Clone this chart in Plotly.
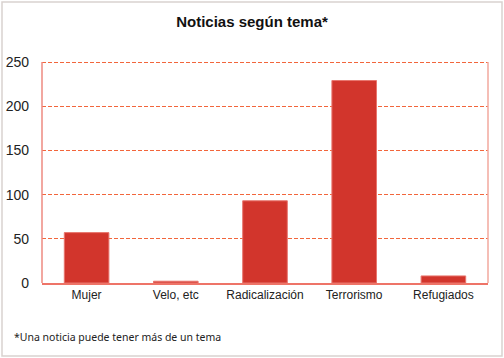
import plotly.graph_objects as go

categories = ["Mujer", "Velo, etc", "Radicalización", "Terrorismo", "Refugiados"]
values = [57, 2, 93, 229, 8]
y_ticks = [0, 50, 100, 150, 200, 250]

T = 56
PH = 358 - T - 75  # plot height in px

fig = go.Figure()
fig.add_trace(go.Bar(
    x=categories, y=values,
    marker=dict(color="#D2352C", line=dict(color="#E8766E", width=1)),
    width=0.5,
))

fig.update_layout(
    width=504, height=358,
    margin=dict(l=42, r=16, t=T, b=75),
    paper_bgcolor="white", plot_bgcolor="white",
    showlegend=False,
    title=dict(text="<b>Noticias según tema*</b>", x=0.5, xanchor="center",
               y=1 - 22/358, yanchor="middle",
               font=dict(family="Liberation Sans, Arial", size=15, color="#111111")),
    font=dict(family="Liberation Sans, Arial", color="#222222"),
    shapes=[dict(type="rect", xref="paper", yref="paper",
                 x0=-40/446, x1=1 + 14/446, y0=-73/PH, y1=1 + (T - 2)/PH,
                 line=dict(color="#D9D2CF", width=1.5), fillcolor="rgba(0,0,0,0)", layer="above"),
            dict(type="line", xref="paper", yref="paper", x0=1, x1=1, y0=0, y1=1 - (62 - T)/PH,
                 line=dict(color="#F2A89E", width=1.5)),
            dict(type="line", xref="paper", yref="paper", x0=0, x1=0, y0=0, y1=1 - (62 - T)/PH,
                 line=dict(color="#EE8A80", width=1.5))],
    annotations=[dict(text="*Una noticia puede tener más de un tema", xref="paper", yref="paper",
                      x=-30/446, y=-(337-283)/PH, xanchor="left", yanchor="middle",
                      showarrow=False, font=dict(family="Noto Sans, Open Sans", size=10.5, color="#222222"))],
)
fig.update_xaxes(showline=True, linecolor="#EE7468", linewidth=1.5, showgrid=False,
                 tickfont=dict(size=12), ticks="", automargin=False)
fig.update_yaxes(range=[0, 250 * PH / 221], tickvals=y_ticks, showline=False,
                 showgrid=True, gridcolor="#F2663C",
                 griddash="4px,2px", gridwidth=1, zeroline=False, automargin=False,
                 tickfont=dict(size=14), ticklabelstandoff=12)

fig.write_html("out.html", config={"displayModeBar": False},
               post_script="document.body.style.margin='0';")
